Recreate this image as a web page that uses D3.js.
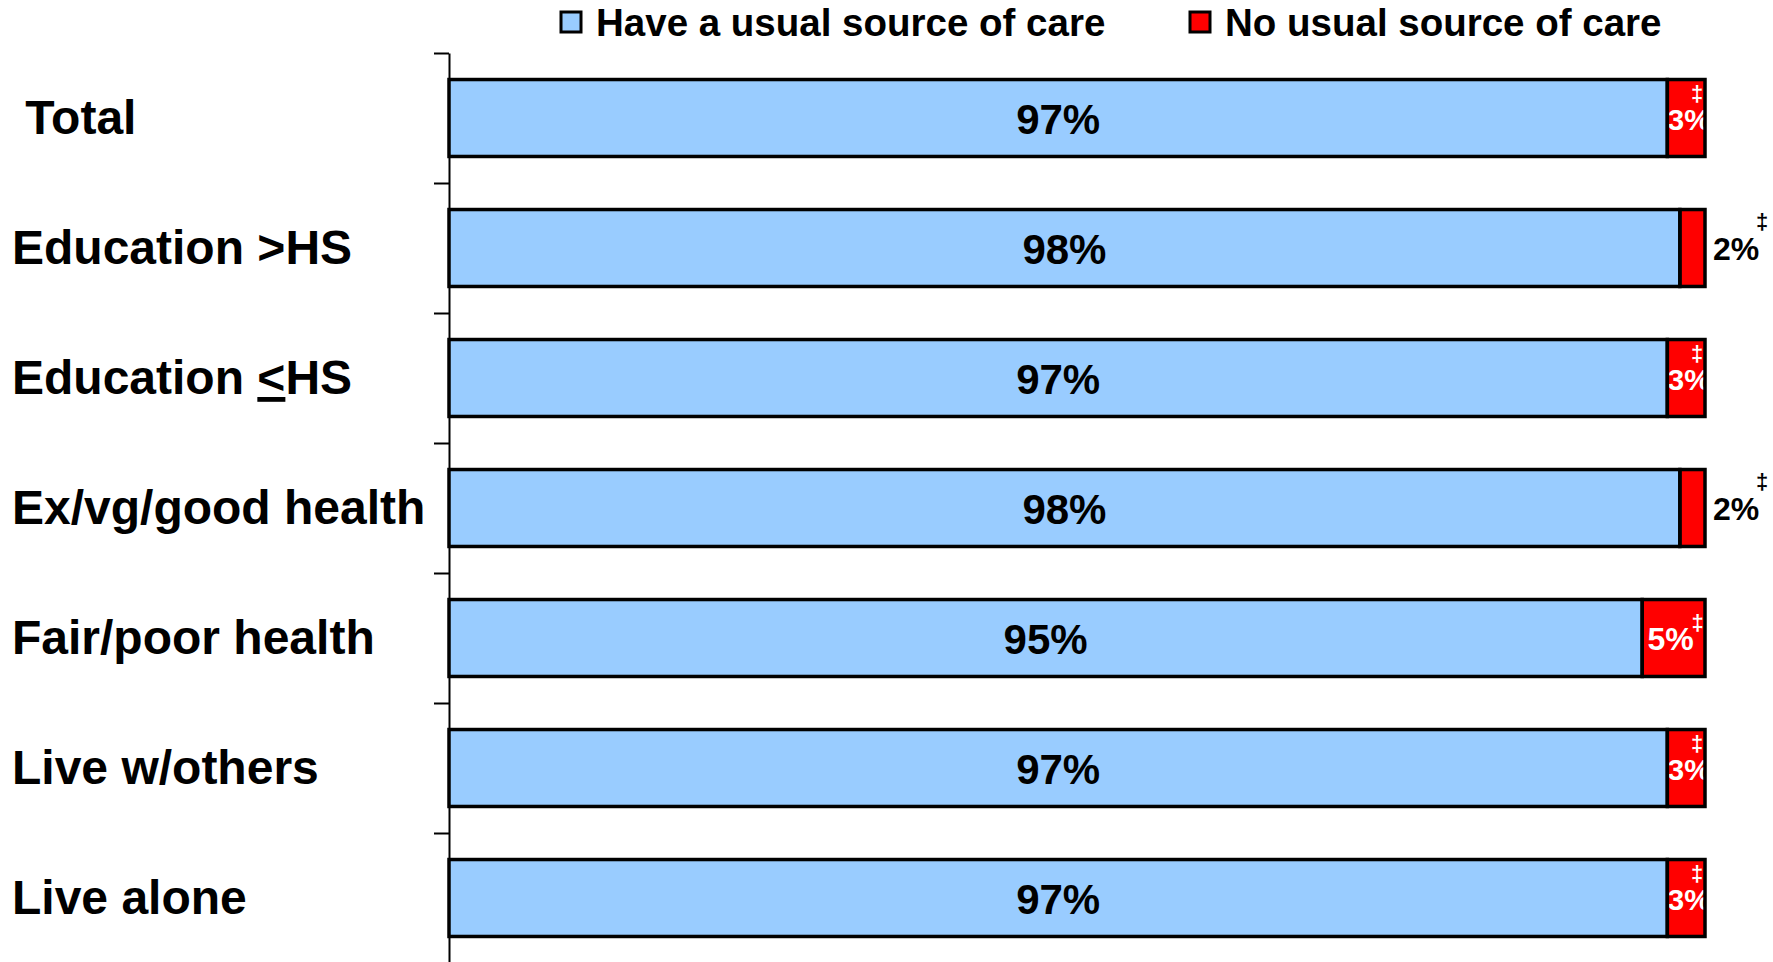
<!DOCTYPE html>
<html>
<head>
<meta charset="utf-8">
<script src="https://cdn.jsdelivr.net/npm/d3@7"></script>
<style>
  html, body { margin: 0; padding: 0; background: #ffffff; }
  svg { display: block; }
  text { font-family: "Liberation Sans", Arial, sans-serif; font-weight: bold; }
</style>
</head>
<body>
<svg id="chart" width="1773" height="962"></svg>
<script>
const categories = ["Total", "Education >HS", "Education <HS", "Ex/vg/good health", "Fair/poor health", "Live w/others", "Live alone"];
const haveCare = [97, 98, 97, 98, 95, 97, 97];
const noCare = [3, 2, 3, 2, 5, 3, 3];
const seriesNames = ["Have a usual source of care", "No usual source of care"];
const seriesColors = ["#99CCFF", "#FF0000"];
const footnoteMark = "\u2021";

const svg = d3.select("#chart");
const W = 1773, H = 962;
svg.append("rect").attr("width", W).attr("height", H).attr("fill", "#fff");

const x = d3.scaleLinear().domain([0, 100]).range([449, 1705]);
const y = d3.scaleBand().domain(categories).range([53, 963]).paddingInner(0.408).paddingOuter(0.204);
const yEdge = d3.scaleLinear().domain([0, categories.length]).range([53, 963]);

// axis
const axis = svg.append("g").attr("transform", "translate(449,0)")
  .call(d3.axisLeft(yEdge).tickValues(d3.range(categories.length + 1)).tickSize(15).tickSizeOuter(0).tickFormat(""));
axis.select(".domain").attr("stroke", "#000").attr("stroke-width", 2);
axis.selectAll(".tick line").attr("stroke", "#000").attr("stroke-width", 2);

const rows = categories.map((c, i) => ({ cat: c, have: haveCare[i], no: noCare[i] }));

// category labels
const lab = svg.append("g").selectAll("text").data(rows).join("text")
  .attr("x", 12)
  .attr("y", d => y(d.cat) + y.bandwidth() / 2 + 16)
  .attr("font-size", 48)
  .attr("fill", "#000")
  .style("white-space", "pre");
lab.each(function(d) {
  const t = d3.select(this);
  if (d.cat === "Total") { t.text(" " + d.cat); return; }
  const k = d.cat.indexOf("<");
  if (k >= 0) {
    t.append("tspan").text(d.cat.slice(0, k));
    t.append("tspan").text("<").style("text-decoration", "underline");
    t.append("tspan").text(d.cat.slice(k + 1));
  } else {
    t.text(d.cat);
  }
});

// bar fills
const bars = svg.append("g");
bars.selectAll("rect.have").data(rows).join("rect").attr("class", "have")
  .attr("x", x(0)).attr("y", d => y(d.cat))
  .attr("width", d => x(d.have) - x(0)).attr("height", y.bandwidth())
  .attr("fill", seriesColors[0]);
bars.selectAll("rect.no").data(rows).join("rect").attr("class", "no")
  .attr("x", d => x(d.have)).attr("y", d => y(d.cat))
  .attr("width", d => x(d.have + d.no) - x(d.have)).attr("height", y.bandwidth())
  .attr("fill", seriesColors[1]);

// value labels
const labels = svg.append("g");
labels.selectAll("text.hv").data(rows).join("text").attr("class", "hv")
  .attr("x", d => (x(0) + x(d.have)) / 2)
  .attr("y", d => y(d.cat) + y.bandwidth() / 2 + 16)
  .attr("text-anchor", "middle").attr("font-size", 42).attr("fill", "#000")
  .text(d => d.have + "%");

rows.forEach(d => {
  const yc = y(d.cat) + y.bandwidth() / 2;
  const x0 = x(d.have), x1 = x(d.have + d.no);
  const w = x1 - x0;
  const cx = (x0 + x1) / 2;
  if (d.no >= 3) {
    const wide = w > 50;
    labels.append("text")
      .attr("x", cx + (wide ? -3 : 3)).attr("y", yc + 12)
      .attr("text-anchor", "middle").attr("font-size", wide ? 32 : 30).attr("fill", "#fff")
      .text(d.no + "%");
    labels.append("text")
      .attr("x", wide ? cx + 24 : cx + 11).attr("y", wide ? yc - 8 : yc - 17)
      .attr("text-anchor", "middle").attr("font-size", 22).attr("fill", "#fff")
      .text(footnoteMark);
  } else {
    labels.append("text")
      .attr("x", x1 + 8).attr("y", yc + 12)
      .attr("text-anchor", "start").attr("font-size", 32).attr("fill", "#000")
      .text(d.no + "%");
    labels.append("text")
      .attr("x", x1 + 57).attr("y", yc - 19)
      .attr("text-anchor", "middle").attr("font-size", 22).attr("fill", "#000")
      .text(footnoteMark);
  }
});

// outlines on top
const outl = svg.append("g");
outl.selectAll("rect.oh").data(rows).join("rect").attr("class", "oh")
  .attr("x", x(0)).attr("y", d => y(d.cat))
  .attr("width", d => x(d.have) - x(0)).attr("height", y.bandwidth())
  .attr("fill", "none").attr("stroke", "#000").attr("stroke-width", 3.5);
outl.selectAll("rect.on").data(rows).join("rect").attr("class", "on")
  .attr("x", d => x(d.have)).attr("y", d => y(d.cat))
  .attr("width", d => x(d.have + d.no) - x(d.have)).attr("height", y.bandwidth())
  .attr("fill", "none").attr("stroke", "#000").attr("stroke-width", 3.5);

// legend
const legendX = [561, 1190];
const leg = svg.append("g");
seriesNames.forEach((name, i) => {
  leg.append("rect").attr("x", legendX[i]).attr("y", 12).attr("width", 20).attr("height", 20)
    .attr("fill", seriesColors[i]).attr("stroke", "#000").attr("stroke-width", 3);
  leg.append("text").attr("x", legendX[i] + 35).attr("y", 36)
    .attr("font-size", 38.5).attr("fill", "#000").text(name);
});
</script>
</body>
</html>
